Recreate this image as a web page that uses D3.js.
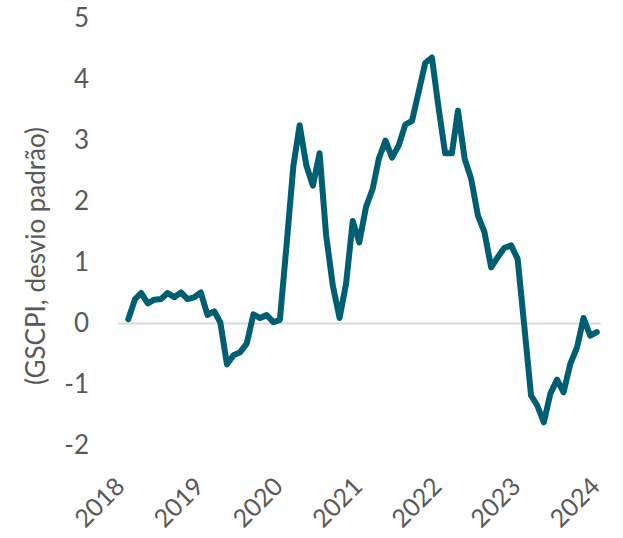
<!DOCTYPE html>
<html>
<head>
<meta charset="utf-8">
<script src="https://cdn.jsdelivr.net/npm/d3@7"></script>
<style>
  body { margin: 0; background: #fff; }
  svg { display: block; }
  text { font-family: Lato, "Open Sans", sans-serif; fill: #595959; }
</style>
</head>
<body>
<svg width="623" height="538"></svg>
<script>
// GSCPI mensal, jan/2018 a dez/2023
var primeiroMes = "2018-01-01";
var gscpi = [
  0.07, 0.40, 0.50, 0.33, 0.39, 0.40, 0.50, 0.43, 0.51, 0.40, 0.43, 0.51,
  0.14, 0.20, 0.02, -0.67, -0.52, -0.47, -0.33, 0.15, 0.09, 0.14, 0.02, 0.06,
  1.30, 2.58, 3.25, 2.59, 2.26, 2.79, 1.45, 0.62, 0.09, 0.65, 1.68, 1.33,
  1.91, 2.21, 2.70, 3.00, 2.72, 2.92, 3.26, 3.32, 3.80, 4.27, 4.36, 3.55,
  2.79, 2.79, 3.49, 2.70, 2.37, 1.77, 1.50, 0.92, 1.09, 1.24, 1.28, 1.06,
  -0.05, -1.18, -1.34, -1.62, -1.15, -0.92, -1.13, -0.66, -0.39, 0.09, -0.20, -0.14
];
var anos = ["2018", "2019", "2020", "2021", "2022", "2023", "2024"];
var ticksY = [-2, -1, 0, 1, 2, 3, 4, 5];
var tituloY = "(GSCPI, desvio padrão)";

var inicio = new Date(primeiroMes);
var dados = gscpi.map(function(v, i) {
  return { data: d3.utcMonth.offset(inicio, i), valor: v };
});

var svg = d3.select("svg");

var x = d3.scaleUtc()
  .domain([new Date(anos[0] + "-01-01"), new Date(anos[anos.length - 1] + "-01-01")])
  .range([128.3, 603.5]);
var y = d3.scaleLinear().domain([-2, 5]).range([445.5, 18.5]);

// linha do zero
svg.append("line")
  .attr("x1", x.range()[0] - 10).attr("x2", x.range()[1] - 3)
  .attr("y1", y(0)).attr("y2", y(0))
  .attr("stroke", "#d9d9d9").attr("stroke-width", 2);

// eixo y (so os rotulos)
var eixoY = svg.append("g")
  .attr("transform", "translate(89,0)")
  .call(d3.axisLeft(y).tickValues(ticksY).tickSize(0).tickPadding(0)
    .tickFormat(function(d) { return d < 0 ? "-" + Math.abs(d) : d; }));
eixoY.select(".domain").remove();
eixoY.selectAll("text")
  .attr("font-size", 26)
  .style("font-family", "Lato, 'Open Sans', sans-serif")
  .attr("fill", "#595959");

// eixo x, rotulos a -45 graus
svg.append("g").selectAll("text")
  .data(anos)
  .enter().append("text")
  .attr("transform", function(d) {
    return "translate(" + (x(new Date(d + "-01-01")) - 2) + ",488) rotate(-45)";
  })
  .attr("text-anchor", "end")
  .attr("font-size", 25)
  .text(function(d) { return d; });

// titulo do eixo y
svg.append("text")
  .attr("transform", "translate(45,256) rotate(-90)")
  .attr("text-anchor", "middle")
  .attr("font-size", 26)
  .text(tituloY);

var linha = d3.line()
  .x(function(d) { return x(d.data); })
  .y(function(d) { return y(d.valor); });

svg.append("path")
  .datum(dados)
  .attr("d", linha)
  .attr("fill", "none")
  .attr("stroke", "#005e73")
  .attr("stroke-width", 6)
  .attr("stroke-linejoin", "round")
  .attr("stroke-linecap", "round");
</script>
</body>
</html>
